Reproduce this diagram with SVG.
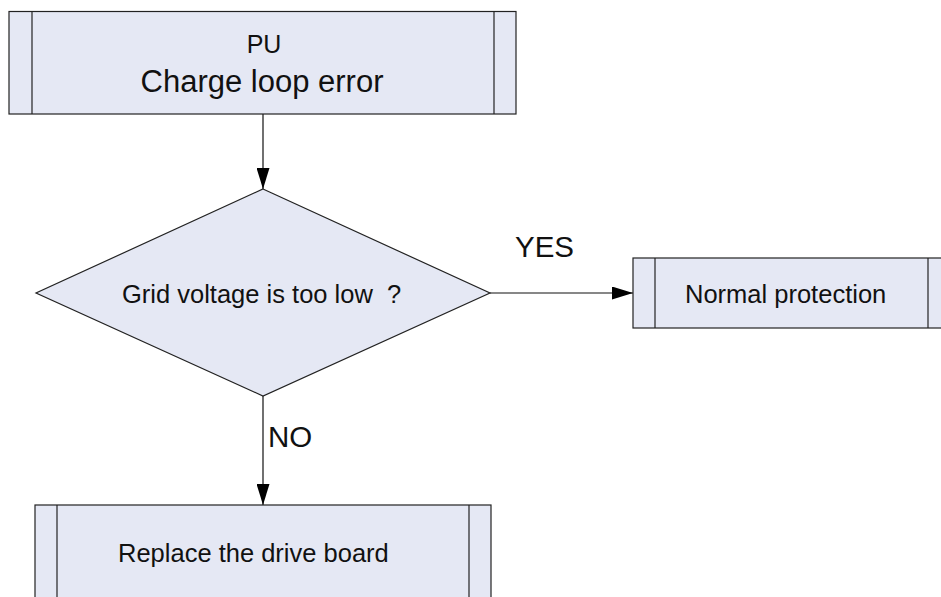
<svg xmlns="http://www.w3.org/2000/svg" width="941" height="597" viewBox="0 0 941 597">
<defs>
<style>
.box{fill:#E5E8F4;stroke:#222;stroke-width:1.2}
.ln{stroke:#222;stroke-width:1.2;fill:none}
.t{font-family:"Liberation Sans",Arial,sans-serif;fill:#111}
.conn{stroke:#111;stroke-width:1.2;fill:none}
</style>
<marker id="ah" markerWidth="21" markerHeight="13" refX="21" refY="6.5" orient="auto" markerUnits="userSpaceOnUse">
<path d="M0,0 L21,6.5 L0,13 Z" fill="#000"/>
</marker>
</defs>
<rect width="941" height="597" fill="#fff"/>
<g id="connectors">
<line class="conn" x1="263" y1="114" x2="263" y2="189" marker-end="url(#ah)"/>
<line class="conn" x1="490" y1="293" x2="633" y2="293" marker-end="url(#ah)"/>
<line class="conn" x1="263" y1="396" x2="263" y2="505" marker-end="url(#ah)"/>
<text class="t" x="515" y="257" font-size="29.5">YES</text>
<text class="t" x="268" y="447" font-size="29.5">NO</text>
</g>
<g id="start">
<rect class="box" x="9" y="11.5" width="507" height="102.5"/>
<line class="ln" x1="32" y1="11.5" x2="32" y2="114"/>
<line class="ln" x1="494" y1="11.5" x2="494" y2="114"/>
<text class="t" x="264" y="53" font-size="25" text-anchor="middle">PU</text>
<text class="t" x="262" y="92" font-size="31" text-anchor="middle">Charge loop error</text>
</g>
<g id="decision">
<polygon class="box" points="263,189 490,293 263,396 36,293"/>
<text class="t" x="122" y="303" font-size="25.5">Grid voltage is too low&#160; ?</text>
</g>
<g id="normal">
<rect class="box" x="633" y="258" width="320" height="70"/>
<line class="ln" x1="655" y1="258" x2="655" y2="328"/>
<line class="ln" x1="928" y1="258" x2="928" y2="328"/>
<text class="t" x="685" y="303" font-size="25.5">Normal protection</text>
</g>
<g id="replace">
<rect class="box" x="35" y="505" width="456" height="110"/>
<line class="ln" x1="57" y1="505" x2="57" y2="615"/>
<line class="ln" x1="469" y1="505" x2="469" y2="615"/>
<text class="t" x="118" y="562" font-size="25.5">Replace the drive board</text>
</g>
</svg>
